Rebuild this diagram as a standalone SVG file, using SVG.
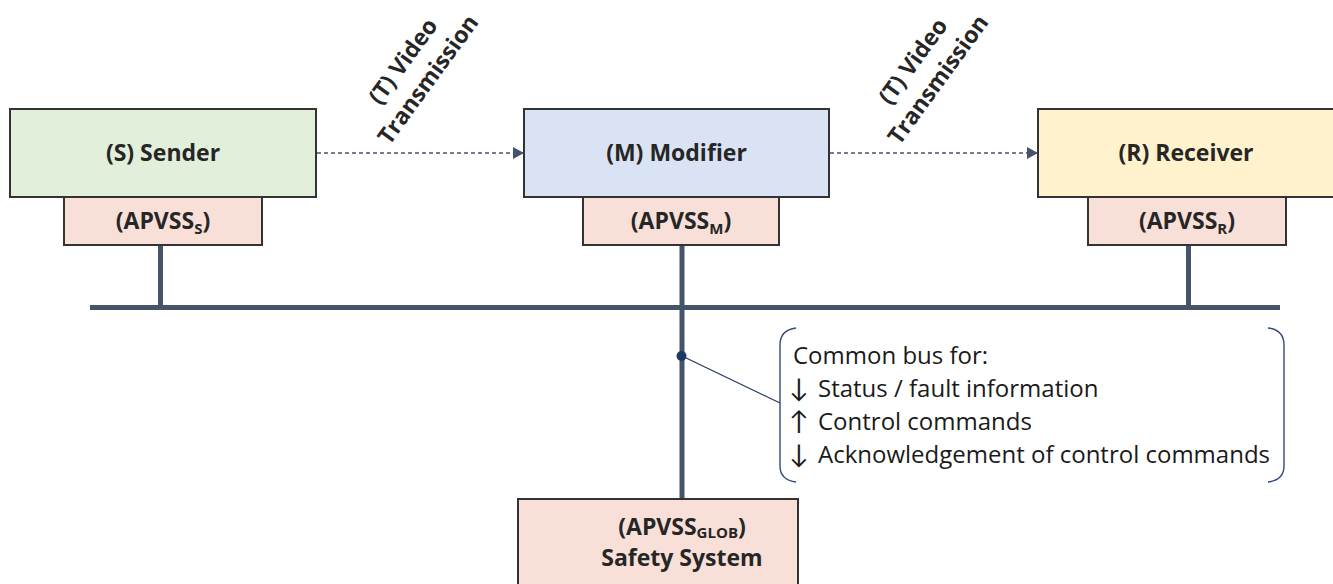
<svg xmlns="http://www.w3.org/2000/svg" width="1333" height="584" viewBox="0 0 1333 584">
<style>
.box{stroke:#333;stroke-width:2}
.lbl{font-family:"Open Sans","Liberation Sans",sans-serif;font-weight:bold;font-size:23px;fill:#262626;text-anchor:middle}
.sub{font-size:15px}
.bus{stroke:#44546A;stroke-width:5;fill:none}
.dash{stroke:#44546A;stroke-width:1.3;stroke-dasharray:4 3;fill:none}
.note{font-family:"Open Sans","Liberation Sans",sans-serif;font-size:24px;fill:#1a1a1a}
.arw{font-family:Lato,"DejaVu Sans",sans-serif;font-size:26px}
</style>
<defs>
<marker id="ah" markerWidth="11" markerHeight="12" refX="11" refY="6" orient="auto" markerUnits="userSpaceOnUse">
<path d="M0,0 L11,6 L0,12 Z" fill="#44546A"/>
</marker>
</defs>
<rect width="1333" height="584" fill="#fff"/>
<g id="connectors">
<line class="bus" x1="90" y1="307.5" x2="1280" y2="307.5"/>
<line class="bus" x1="160.5" y1="245" x2="160.5" y2="307"/>
<line class="bus" x1="682" y1="245" x2="682" y2="499"/>
<line class="bus" x1="1188.5" y1="245" x2="1188.5" y2="307"/>
<line class="dash" x1="317" y1="153" x2="524" y2="153" marker-end="url(#ah)"/>
<line class="dash" x1="830" y1="153" x2="1038" y2="153" marker-end="url(#ah)"/>
<line x1="682" y1="356" x2="780" y2="403" stroke="#203864" stroke-width="1.2"/>
<circle cx="681.5" cy="356" r="5" fill="#1F3864"/>
</g>
<g id="label-t1" transform="translate(415,70) rotate(-54)">
<text class="lbl" x="0" y="-7">(T) Video</text>
<text class="lbl" x="0" y="24">Transmission</text>
</g>
<g id="label-t2" transform="translate(925,70) rotate(-54)">
<text class="lbl" x="0" y="-7">(T) Video</text>
<text class="lbl" x="0" y="24">Transmission</text>
</g>
<g id="sender">
<rect class="box" x="10" y="109" width="306" height="88" fill="#E2EFDA"/>
<text class="lbl" x="163" y="161">(S) Sender</text>
</g>
<g id="apvss-s">
<rect class="box" x="64" y="197" width="198" height="48" fill="#F8E0D8"/>
<text class="lbl" x="163" y="229">(APVSS<tspan class="sub" dy="5">S</tspan><tspan dy="-5">)</tspan></text>
</g>
<g id="modifier">
<rect class="box" x="524" y="109" width="305" height="88" fill="#DAE3F3"/>
<text class="lbl" x="676.5" y="161">(M) Modifier</text>
</g>
<g id="apvss-m">
<rect class="box" x="583" y="197" width="196" height="48" fill="#F8E0D8"/>
<text class="lbl" x="681" y="229">(APVSS<tspan class="sub" dy="5">M</tspan><tspan dy="-5">)</tspan></text>
</g>
<g id="receiver">
<rect class="box" x="1038" y="109" width="310" height="88" fill="#FFF2CC"/>
<text class="lbl" x="1186" y="161">(R) Receiver</text>
</g>
<g id="apvss-r">
<rect class="box" x="1088" y="197" width="198" height="48" fill="#F8E0D8"/>
<text class="lbl" x="1187" y="229">(APVSS<tspan class="sub" dy="5">R</tspan><tspan dy="-5">)</tspan></text>
</g>
<g id="safety">
<rect class="box" x="518" y="499" width="280" height="100" fill="#F8E0D8"/>
<text class="lbl" x="682" y="535">(APVSS<tspan class="sub" dy="3">GLOB</tspan><tspan dy="-3">)</tspan></text>
<text class="lbl" x="682" y="566">Safety System</text>
</g>
<g id="note">
<path d="M796,328 Q780,330 780,345 L780,466 Q780,480 796,482" fill="none" stroke="#2F4A7A" stroke-width="1.4"/>
<path d="M1268,328 Q1284,330 1284,345 L1284,466 Q1284,480 1268,482" fill="none" stroke="#2F4A7A" stroke-width="1.4"/>
<text class="note" x="793" y="364">Common bus for:</text>
<text class="note" y="397"><tspan class="arw" x="789">↓</tspan><tspan x="818">Status / fault information</tspan></text>
<text class="note" y="430"><tspan class="arw" x="789">↑</tspan><tspan x="818">Control commands</tspan></text>
<text class="note" y="463"><tspan class="arw" x="789">↓</tspan><tspan x="818">Acknowledgement of control commands</tspan></text>
</g>
</svg>
